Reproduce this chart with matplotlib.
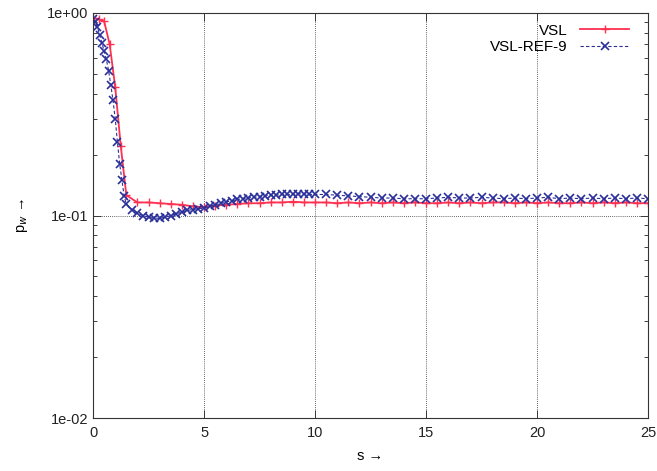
import matplotlib
matplotlib.use('Agg')
import matplotlib.pyplot as plt
from matplotlib.ticker import LogLocator, NullFormatter, FixedLocator

# VSL (red, + markers)
s_vsl = [0.0, 0.25, 0.5, 0.75, 1.0, 1.25, 1.5, 2.0, 2.5, 3.0, 3.5, 4.0, 4.5,
         5.0, 5.5, 6.0, 6.5, 7.0, 7.5, 8.0, 8.5, 9.0, 9.5, 10.0, 10.5, 11.0,
         11.5, 12.0, 12.5, 13.0, 13.5, 14.0, 14.5, 15.0, 15.5, 16.0, 16.5,
         17.0, 17.5, 18.0, 18.5, 19.0, 19.5, 20.0, 20.5, 21.0, 21.5, 22.0,
         22.5, 23.0, 23.5, 24.0, 24.5, 25.0]
p_vsl = [0.95, 0.93, 0.91, 0.70, 0.43, 0.22, 0.126, 0.116, 0.116, 0.115,
         0.114, 0.113, 0.111, 0.110, 0.112, 0.113, 0.114, 0.115, 0.115, 0.116,
         0.116, 0.117, 0.116, 0.116, 0.116, 0.115, 0.116, 0.115, 0.116, 0.115,
         0.116, 0.115, 0.116, 0.115, 0.115, 0.116, 0.115, 0.116, 0.115, 0.116,
         0.116, 0.115, 0.116, 0.115, 0.116, 0.115, 0.115, 0.116, 0.115, 0.116,
         0.115, 0.116, 0.115, 0.115]

# VSL-REF-9 (blue, x markers)
s_ref = [0.0, 0.1, 0.2, 0.3, 0.4, 0.5, 0.6, 0.7, 0.8, 0.9, 1.0, 1.1, 1.2,
         1.3, 1.4, 1.5, 1.75, 2.0, 2.25, 2.5, 2.75, 3.0, 3.25, 3.5, 3.75,
         4.0, 4.25, 4.5, 4.75, 5.0, 5.25, 5.5, 5.75, 6.0, 6.25, 6.5, 6.75,
         7.0, 7.25, 7.5, 7.75, 8.0, 8.25, 8.5, 8.75, 9.0, 9.25, 9.5, 9.75,
         10.0, 10.5, 11.0, 11.5, 12.0, 12.5, 13.0, 13.5, 14.0, 14.5, 15.0,
         15.5, 16.0, 16.5, 17.0, 17.5, 18.0, 18.5, 19.0, 19.5, 20.0, 20.5,
         21.0, 21.5, 22.0, 22.5, 23.0, 23.5, 24.0, 24.5, 25.0]
p_ref = [0.93, 0.90, 0.85, 0.78, 0.71, 0.65, 0.59, 0.52, 0.44, 0.37, 0.30,
         0.23, 0.18, 0.15, 0.125, 0.114, 0.107, 0.103, 0.100, 0.098, 0.097,
         0.097, 0.098, 0.100, 0.102, 0.104, 0.106, 0.107, 0.108, 0.109, 0.111,
         0.113, 0.115, 0.117, 0.118, 0.120, 0.121, 0.122, 0.123, 0.124, 0.125,
         0.126, 0.126, 0.127, 0.127, 0.127, 0.128, 0.128, 0.127, 0.127, 0.127,
         0.126, 0.125, 0.124, 0.123, 0.122, 0.122, 0.121, 0.121, 0.121, 0.122,
         0.123, 0.122, 0.122, 0.123, 0.122, 0.121, 0.122, 0.121, 0.122, 0.123,
         0.121, 0.122, 0.121, 0.122, 0.121, 0.122, 0.121, 0.122, 0.121]

x_ticks = [0, 5, 10, 15, 20, 25]
y_ticks = [1e-2, 1e-1, 1e0]
y_labels = ['1e-02', '1e-01', '1e+00']

plt.rcParams['font.family'] = ['Liberation Sans', 'DejaVu Sans']

fig = plt.figure(figsize=(6.57, 4.71), dpi=100)
ax = fig.add_axes([0.1416, 0.1125, 0.8447, 0.8599])

ax.plot(s_vsl, p_vsl, color='#ff3050', lw=1.3, marker='+', ms=6, mew=1.0,
        label='VSL')
ax.plot(s_ref, p_ref, color='#2a2f9a', lw=0.8, ls=(0, (3, 2)), marker='x',
        ms=6, mew=1.2, label='VSL-REF-9')

ax.set_yscale('log')
ax.set_xlim(0, 25)
ax.set_ylim(1e-2, 1e0)

ax.xaxis.set_major_locator(FixedLocator(x_ticks))
ax.yaxis.set_major_locator(FixedLocator(y_ticks))
ax.set_yticklabels(y_labels)
ax.yaxis.set_minor_locator(LogLocator(base=10, subs=range(2, 10)))
ax.yaxis.set_minor_formatter(NullFormatter())

ax.tick_params(which='both', direction='in', top=True, right=True,
               labelsize=10.5, colors='#222222')
ax.tick_params(which='major', length=6, width=0.6)
ax.tick_params(which='minor', length=3, width=0.6)
ax.tick_params(axis='x', pad=6)

ax.grid(True, which='major', color='#333333', ls=(0, (1, 1.5)), lw=0.6)

for sp in ax.spines.values():
    sp.set_linewidth(0.8)
    sp.set_color('#333333')

ax.set_xlabel('s \u2192', fontsize=10.5, labelpad=6)
ax.set_ylabel('p$_w$ \u2192', fontsize=10.5, labelpad=12)

ax.legend(loc='upper right', frameon=False, markerfirst=False, fontsize=11,
          handlelength=3.2, borderaxespad=0.3, labelspacing=0.15,
          bbox_to_anchor=(0.985, 1.0))

fig.savefig('out.png', dpi=100)
